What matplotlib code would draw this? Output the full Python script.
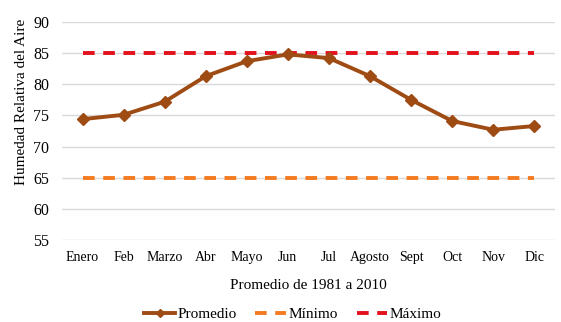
import matplotlib
matplotlib.use("Agg")
import matplotlib.pyplot as plt

months = ["Enero", "Feb", "Marzo", "Abr", "Mayo", "Jun", "Jul", "Agosto", "Sept", "Oct", "Nov", "Dic"]
promedio = [74.4, 75.1, 77.2, 81.3, 83.7, 84.8, 84.2, 81.3, 77.5, 74.1, 72.7, 73.3]
minimo = [65] * 12
maximo = [85] * 12
yticks = [55, 60, 65, 70, 75, 80, 85, 90]

plt.rcParams['font.family'] = ['Liberation Serif', 'DejaVu Serif']

fig = plt.figure(figsize=(5.61, 3.22), dpi=100)
ax = fig.add_axes([0.1105, 0.2547, 0.8785, 0.677])
x = list(range(len(months)))

ax.plot(x, promedio, color='#9E4B14', lw=2.8, marker='D', markersize=6.5, label='Promedio', zorder=4)
ax.plot(x, minimo, color='#F47B20', lw=2.8, dashes=(3, 2.2), label='Mínimo', zorder=3)
ax.plot(x, maximo, color='#E3111B', lw=2.8, dashes=(3, 2.2), label='Máximo', zorder=3)

ax.set_xlim(-0.5, 11.5)
ax.set_ylim(55, 90)
ax.set_yticks(yticks)
ax.set_xticks(x)
ax.set_xticklabels(months, fontsize=10)
ax.tick_params(axis='y', labelsize=11.5, length=0, pad=9)
ax.tick_params(axis='x', length=0, pad=8)
ax.grid(axis='y', color='#D9D9D9', lw=1)
ax.set_axisbelow(True)
for s in ax.spines.values():
    s.set_visible(False)

ax.set_ylabel('Humedad Relativa del Aire', fontsize=11)
ax.yaxis.set_label_coords(-0.068, 0.635)
ax.set_xlabel('Promedio de 1981 a 2010', fontsize=11, labelpad=11)

fig.legend(loc='lower center', bbox_to_anchor=(0.522, -0.04), ncol=3, frameon=False,
           fontsize=11, handlelength=2.0, columnspacing=1.25, handletextpad=0.15,
           markerscale=0.7)

fig.savefig('out.png', dpi=100)
